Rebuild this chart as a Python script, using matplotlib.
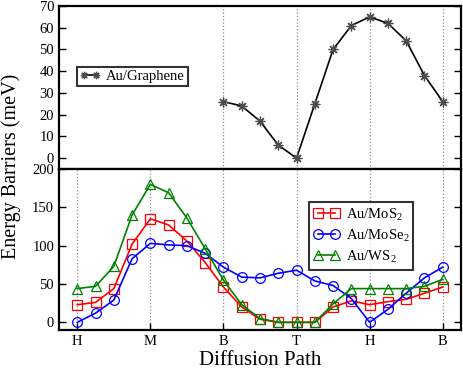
import matplotlib
matplotlib.use("Agg")
import matplotlib.pyplot as plt

plt.rcParams['font.family'] = ['Liberation Serif', 'DejaVu Serif']
plt.rcParams['mathtext.fontset'] = 'custom'
plt.rcParams['mathtext.rm'] = 'Liberation Serif'

path_labels = ['H', 'M', 'B', 'T', 'H', 'B']
path_pos = [0, 4, 8, 12, 16, 20]

x_graphene = list(range(8, 21))
graphene = [26, 24, 17, 6, 0, 25, 50, 61, 65, 62, 54, 38, 26]

x_all = list(range(0, 21))
mos2 = [23, 26, 44, 102, 135, 127, 106, 78, 46, 20, 4, 0, 0, 0, 20, 28, 23, 27, 30, 38, 46]
mose2 = [0, 12, 29, 83, 103, 101, 100, 90, 72, 59, 58, 64, 68, 54, 48, 31, 0, 17, 38, 58, 72]
ws2 = [44, 47, 73, 140, 180, 169, 136, 96, 55, 23, 5, 0, 0, 0, 24, 44, 44, 44, 44, 47, 56]

fig = plt.figure(figsize=(4.63, 3.70), dpi=100)
W, H = 463, 370
left, right = 59 / W, 461 / W
ax1 = fig.add_axes([left, 1 - 169 / H, right - left, (169 - 6) / H])
ax2 = fig.add_axes([left, 1 - 330 / H, right - left, (330 - 169) / H], sharex=ax1)

for ax in (ax1, ax2):
    for s in ax.spines.values():
        s.set_linewidth(1.6)
    ax.tick_params(direction='in', length=5, width=1, labelsize=10.5, right=True, top=False)

# Top panel
for p in path_pos[2:]:
    ax1.axvline(p, color='0.55', linestyle=':', linewidth=0.9, zorder=0)
ax1.plot(x_graphene, graphene, color='black', linewidth=1.2, marker=(8, 2, 0),
         markersize=7, markeredgecolor='0.3', markeredgewidth=0.9, label='Au/Graphene')
ax1.set_xlim(-1, 21)
ax1.set_ylim(-5, 70)
ax1.set_yticks(range(0, 71, 10))
ax1.tick_params(axis='x', bottom=False, labelbottom=False)
leg1 = ax1.legend(loc='upper left', bbox_to_anchor=(0.045, 0.628), fontsize=10.5,
                  frameon=True, fancybox=False, edgecolor='black', handlelength=1.4,
                  borderpad=0.2, handletextpad=0.4, borderaxespad=0, numpoints=2,
                  markerscale=0.75)
leg1.get_frame().set_linewidth(1.5)

# Bottom panel
for p in path_pos:
    ax2.axvline(p, color='0.55', linestyle=':', linewidth=0.9, zorder=0)
ax2.plot(x_all, mos2, color='red', linewidth=1.2, marker='s', markersize=6.5,
         markerfacecolor='none', markeredgewidth=0.9, label='Au/MoS$_2$')
ax2.plot(x_all, mose2, color='blue', linewidth=1.2, marker='o', markersize=7,
         markerfacecolor='none', markeredgewidth=0.9, label='Au/MoSe$_2$')
ax2.plot(x_all, ws2, color='green', linewidth=1.2, marker='^', markersize=7,
         markerfacecolor='none', markeredgewidth=0.9, label='Au/WS$_2$')
ax2.set_ylim(-10, 200)
ax2.set_yticks(range(0, 201, 50))
ax2.set_xticks(path_pos)
ax2.set_xticklabels(path_labels)
ax2.set_xlabel('Diffusion Path', fontsize=15, labelpad=2.5)
leg2 = ax2.legend(loc='upper left', bbox_to_anchor=(0.622, 0.795), fontsize=10.5,
                  frameon=True, fancybox=False, edgecolor='black', handlelength=1.8,
                  borderpad=0.3, handletextpad=0.4, labelspacing=0.3,
                  borderaxespad=0, numpoints=2)
leg2.get_frame().set_linewidth(1.5)

fig.text(0.024, 1 - 166 / H, 'Energy Barriers (meV)', rotation=90, fontsize=14.5,
         va='center', ha='center')

fig.savefig('out.png', dpi=100)
